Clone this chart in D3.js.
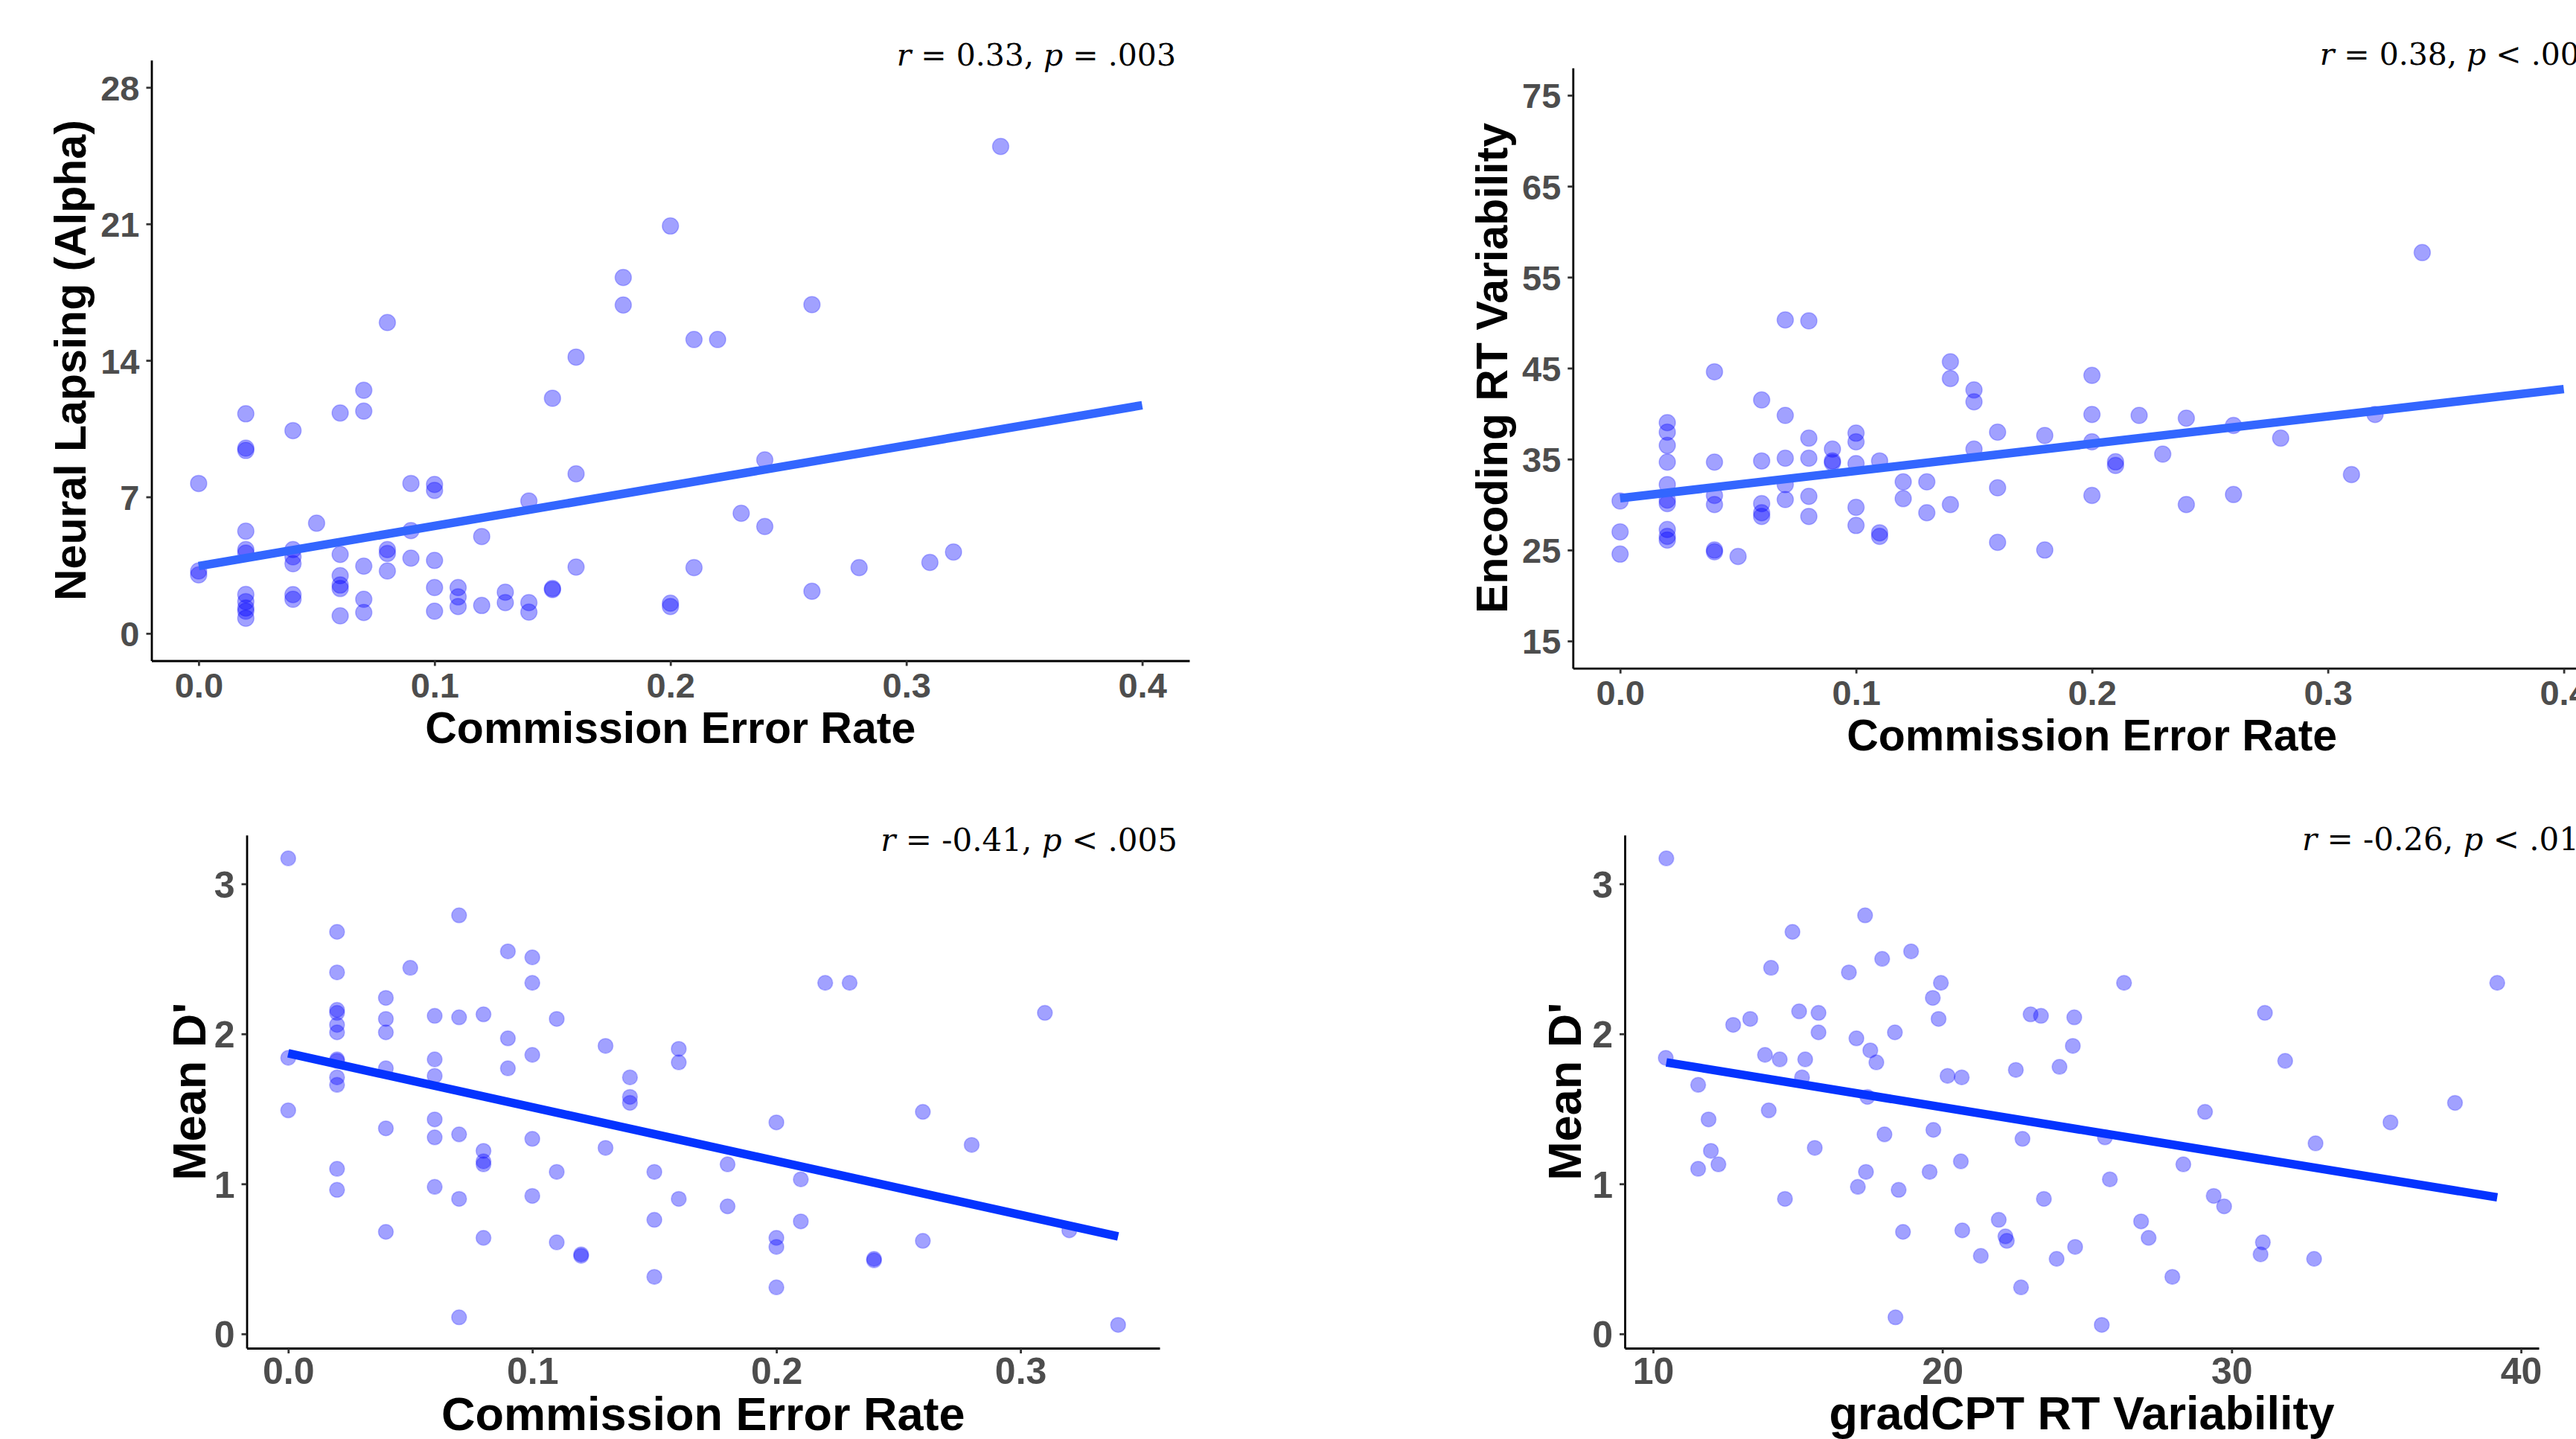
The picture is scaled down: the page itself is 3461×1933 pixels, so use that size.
<!DOCTYPE html>
<html>
<head>
<meta charset="utf-8">
<script src="https://cdn.jsdelivr.net/npm/d3@7"></script>
<style>
    body { margin: 0; background: #fff; }
    .axis path { stroke: #000; stroke-width: 2.8px; }
    .axis line { stroke: #333; stroke-width: 2.8px; }
    .axis text { fill: #4d4d4d; font-family: "Liberation Sans", Arial, sans-serif; font-weight: bold; }
    .title { fill: #000; font-family: "Liberation Sans", Arial, sans-serif; font-weight: bold; }
    .stat { fill: #000; font-family: "DejaVu Serif", serif; }
</style>
</head>
<body>
<svg id="chart"></svg>
<script>
// commission error rate vs neural lapsing (alpha)
const alphaPoints = [
    [0, 7.69], [0, 3.2], [0, 3.0],
    [0.02, 11.26], [0.02, 9.5], [0.02, 9.38], [0.02, 5.24], [0.02, 4.3], [0.02, 4.12], [0.02, 2.0], [0.02, 1.63], [0.02, 1.3], [0.02, 1.14], [0.02, 0.78],
    [0.04, 10.4], [0.04, 4.3], [0.04, 3.93], [0.04, 3.57], [0.04, 1.99], [0.04, 1.75],
    [0.05, 5.65],
    [0.06, 11.3], [0.06, 4.05], [0.06, 2.96], [0.06, 2.48], [0.06, 2.3], [0.06, 0.9],
    [0.07, 12.47], [0.07, 11.4], [0.07, 3.45], [0.07, 1.75], [0.07, 1.07],
    [0.08, 15.94], [0.08, 4.3], [0.08, 4.1], [0.08, 3.2],
    [0.09, 7.69], [0.09, 5.27], [0.09, 3.86],
    [0.1, 7.64], [0.1, 7.33], [0.1, 3.74], [0.1, 2.35], [0.1, 1.14],
    [0.11, 2.35], [0.11, 1.87], [0.11, 1.38],
    [0.12, 4.97], [0.12, 1.43],
    [0.13, 2.11], [0.13, 1.58],
    [0.14, 6.79], [0.14, 1.58], [0.14, 1.09],
    [0.15, 12.06], [0.15, 2.3], [0.15, 2.25],
    [0.16, 14.17], [0.16, 8.18], [0.16, 3.4],
    [0.18, 18.25], [0.18, 16.84],
    [0.2, 20.89], [0.2, 1.55], [0.2, 1.38],
    [0.21, 15.07], [0.21, 3.37],
    [0.22, 15.07],
    [0.23, 6.16],
    [0.24, 8.9], [0.24, 5.48],
    [0.26, 16.86], [0.26, 2.16],
    [0.28, 3.37],
    [0.31, 3.64],
    [0.32, 4.17],
    [0.34, 24.97]
];
const alphaFit = [[0, 3.45], [0.4, 11.7]];

// commission error rate vs encoding RT variability
const encodingPoints = [
    [0, 30.4], [0, 27.0], [0, 24.55],
    [0.02, 39.0], [0.02, 37.96], [0.02, 36.5], [0.02, 34.67], [0.02, 32.2], [0.02, 30.5], [0.02, 30.1], [0.02, 27.26], [0.02, 26.5], [0.02, 26.1],
    [0.04, 44.6], [0.04, 34.67], [0.04, 31.0], [0.04, 30.0], [0.04, 25.0], [0.04, 24.8],
    [0.05, 24.3],
    [0.06, 41.5], [0.06, 34.8], [0.06, 30.1], [0.06, 29.1], [0.06, 28.7],
    [0.07, 50.3], [0.07, 39.8], [0.07, 35.1], [0.07, 32.2], [0.07, 30.55],
    [0.08, 50.2], [0.08, 37.3], [0.08, 35.1], [0.08, 30.9], [0.08, 28.7],
    [0.09, 36.1], [0.09, 34.8], [0.09, 34.6],
    [0.1, 37.85], [0.1, 36.9], [0.1, 34.5], [0.1, 29.7], [0.1, 27.7],
    [0.11, 34.8], [0.11, 26.9], [0.11, 26.5],
    [0.12, 32.5], [0.12, 30.65],
    [0.13, 32.5], [0.13, 29.1],
    [0.14, 45.7], [0.14, 43.85], [0.14, 30.0],
    [0.15, 42.6], [0.15, 41.3], [0.15, 36.1],
    [0.16, 37.96], [0.16, 31.85], [0.16, 25.85],
    [0.18, 37.6], [0.18, 25.0],
    [0.2, 44.2], [0.2, 39.9], [0.2, 36.9], [0.2, 31.0],
    [0.21, 34.7], [0.21, 34.3],
    [0.22, 39.8],
    [0.23, 35.55],
    [0.24, 39.5], [0.24, 30.0],
    [0.26, 38.7], [0.26, 31.1],
    [0.28, 37.3],
    [0.31, 33.3],
    [0.32, 39.9],
    [0.34, 57.7]
];
const encodingFit = [[0, 30.7], [0.4, 42.7]];

// commission error rate vs mean d'
const dprimePoints = [
    [0, 3.17], [0, 1.84], [0, 1.49],
    [0.02, 2.68], [0.02, 2.41], [0.02, 2.16], [0.02, 2.14], [0.02, 2.06], [0.02, 2.01], [0.02, 1.83], [0.02, 1.82], [0.02, 1.71], [0.02, 1.66], [0.02, 1.10], [0.02, 0.96],
    [0.04, 2.24], [0.04, 2.10], [0.04, 2.01], [0.04, 1.77], [0.04, 1.37], [0.04, 0.68],
    [0.05, 2.44],
    [0.06, 2.12], [0.06, 1.83], [0.06, 1.72], [0.06, 1.43], [0.06, 1.31], [0.06, 0.98],
    [0.07, 2.79], [0.07, 2.11], [0.07, 1.33], [0.07, 0.90], [0.07, 0.11],
    [0.08, 2.13], [0.08, 1.22], [0.08, 1.15], [0.08, 1.13], [0.08, 0.64],
    [0.09, 2.55], [0.09, 1.97], [0.09, 1.77],
    [0.1, 2.51], [0.1, 2.34], [0.1, 1.86], [0.1, 1.30], [0.1, 0.92],
    [0.11, 2.10], [0.11, 1.08], [0.11, 0.61],
    [0.12, 0.53], [0.12, 0.52],
    [0.13, 1.92], [0.13, 1.24],
    [0.14, 1.71], [0.14, 1.58], [0.14, 1.54],
    [0.15, 1.08], [0.15, 0.76], [0.15, 0.38],
    [0.16, 1.90], [0.16, 1.81], [0.16, 0.90],
    [0.18, 1.13], [0.18, 0.85],
    [0.2, 1.41], [0.2, 0.64], [0.2, 0.58], [0.2, 0.31],
    [0.21, 1.03], [0.21, 0.75],
    [0.22, 2.34],
    [0.23, 2.34],
    [0.24, 0.50], [0.24, 0.49],
    [0.26, 1.48], [0.26, 0.62],
    [0.28, 1.26],
    [0.31, 2.14],
    [0.32, 0.69],
    [0.34, 0.06]
];
const dprimeFit = [[0, 1.87], [0.34, 0.65]];

// gradCPT RT variability vs mean d'
const gradcptPoints = [
    [10.46, 3.17], [10.44, 1.84], [11.56, 1.66], [11.92, 1.43], [12.0, 1.22], [11.56, 1.10], [12.26, 1.13],
    [12.77, 2.06], [13.36, 2.10], [13.87, 1.86], [14.08, 2.44], [14.0, 1.49], [14.38, 1.83], [14.56, 0.90],
    [14.82, 2.68], [15.05, 2.15], [15.15, 1.71], [15.26, 1.83], [15.72, 2.14], [15.72, 2.01], [15.59, 1.24],
    [16.77, 2.41], [17.03, 1.97], [17.08, 0.98], [17.33, 2.79], [17.36, 1.08], [17.41, 1.58], [17.51, 1.89],
    [17.72, 1.81], [17.92, 2.50], [18.0, 1.33], [18.36, 2.01], [18.38, 0.11], [18.49, 0.96], [18.64, 0.68],
    [18.92, 2.55], [19.56, 1.08], [19.67, 2.24], [19.69, 1.36], [19.87, 2.10], [19.95, 2.34], [20.18, 1.72],
    [20.64, 1.15], [20.67, 1.71], [20.69, 0.69], [21.33, 0.52], [21.95, 0.76], [22.18, 0.65], [22.23, 0.62],
    [22.54, 1.76], [22.72, 0.31], [22.77, 1.30], [23.05, 2.13], [23.41, 2.12], [23.51, 0.90], [23.95, 0.50],
    [24.05, 1.78], [24.51, 1.92], [24.56, 2.11], [24.59, 0.58], [25.51, 0.06], [25.62, 1.31], [25.79, 1.03],
    [26.28, 2.34], [26.87, 0.75], [27.13, 0.64], [27.95, 0.38], [28.33, 1.13], [29.08, 1.48], [29.38, 0.92],
    [29.74, 0.85], [31.0, 0.53], [31.08, 0.61], [31.15, 2.14], [31.85, 1.82], [32.85, 0.50], [32.90, 1.27],
    [35.49, 1.41], [37.72, 1.54], [39.18, 2.34]
];
const gradcptFit = [[10.46, 1.81], [39.18, 0.91]];

const errorRateTicks = [0, 0.1, 0.2, 0.3, 0.4];
const alphaTicks = [0, 7, 14, 21, 28];
const encodingTicks = [15, 25, 35, 45, 55, 65, 75];
const dprimeTicks = [0, 1, 2, 3];
const gradcptTicks = [10, 20, 30, 40];

const svg = d3.select("#chart")
    .attr("width", 3461)
    .attr("height", 1933);

svg.append("rect")
    .attr("width", 3461)
    .attr("height", 1933)
    .attr("fill", "#fff");

function drawPanel(p) {
    const g = svg.append("g");

    const x = d3.scaleLinear().domain(p.xDomain).range(p.xRange);
    const y = d3.scaleLinear().domain(p.yDomain).range(p.yRange);

    // points
    g.selectAll("circle")
        .data(p.points)
        .enter().append("circle")
        .attr("cx", d => x(d[0]))
        .attr("cy", d => y(d[1]))
        .attr("r", p.radius)
        .attr("fill", "#0000ff")
        .attr("fill-opacity", 0.37)
        .attr("stroke", "#0000ff")
        .attr("stroke-opacity", 0.22)
        .attr("stroke-width", 1.5);

    // fitted line
    g.append("path")
        .datum(p.fit)
        .attr("d", d3.line().x(d => x(d[0])).y(d => y(d[1])))
        .attr("fill", "none")
        .attr("stroke", p.lineColor)
        .attr("stroke-width", 11.5);

    const xAxis = g.append("g")
        .attr("class", "axis")
        .attr("transform", `translate(0,${p.yRange[0]})`)
        .call(d3.axisBottom(x).tickValues(p.xTicks).tickFormat(p.xFormat)
            .tickSize(7).tickSizeOuter(0).tickPadding(p.xPad));
    xAxis.selectAll("text").style("font-size", p.tickSize + "px");

    const yAxis = g.append("g")
        .attr("class", "axis")
        .attr("transform", `translate(${p.xRange[0]},0)`)
        .call(d3.axisLeft(y).tickValues(p.yTicks).tickFormat(d3.format("d"))
            .tickSize(7).tickSizeOuter(0).tickPadding(9));
    yAxis.selectAll("text").style("font-size", p.tickSize + "px").attr("dy", "0.36em");

    g.append("text")
        .attr("class", "title")
        .attr("x", (p.xRange[0] + p.xRange[1]) / 2)
        .attr("y", p.xTitleY)
        .attr("text-anchor", "middle")
        .style("font-size", p.titleSize + "px")
        .text(p.xTitle);

    g.append("text")
        .attr("class", "title")
        .attr("transform", `translate(${p.yTitleX},${(p.yRange[0] + p.yRange[1]) / 2}) rotate(-90)`)
        .attr("text-anchor", "middle")
        .style("font-size", p.titleSize + "px")
        .text(p.yTitle);

    const stat = g.append("text")
        .attr("class", "stat")
        .attr("x", p.statX)
        .attr("y", p.statY)
        .attr("text-anchor", "end")
        .style("font-size", p.statSize + "px");
    stat.append("tspan").attr("font-style", "italic").text("r");
    stat.append("tspan").text(` = ${p.r}, `);
    stat.append("tspan").attr("font-style", "italic").text("p");
    stat.append("tspan").text(` ${p.p}`);
}

drawPanel({
    points: alphaPoints, fit: alphaFit,
    xDomain: [-0.02, 0.42], xRange: [203.5, 1598],
    yDomain: [-1.4, 29.4], yRange: [887.5, 80.7],
    xTicks: errorRateTicks, yTicks: alphaTicks, xFormat: d3.format(".1f"), xPad: 9,
    xTitle: "Commission Error Rate", yTitle: "Neural Lapsing (Alpha)",
    xTitleY: 998, yTitleX: 115,
    r: "0.33", p: "= .003", statX: 1580, statY: 88,
    radius: 11, lineColor: "#3366ff", tickSize: 47, titleSize: 59, statSize: 41
});

drawPanel({
    points: encodingPoints, fit: encodingFit,
    xDomain: [-0.02, 0.42], xRange: [2113.3, 3508],
    yDomain: [12, 78], yRange: [897.7, 91.3],
    xTicks: errorRateTicks, yTicks: encodingTicks, xFormat: d3.format(".1f"), xPad: 9,
    xTitle: "Commission Error Rate", yTitle: "Encoding RT Variability",
    xTitleY: 1008, yTitleX: 2025,
    r: "0.38", p: "< .001", statX: 3492, statY: 87,
    radius: 11, lineColor: "#3366ff", tickSize: 47, titleSize: 59, statSize: 41
});

drawPanel({
    points: dprimePoints, fit: dprimeFit,
    xDomain: [-0.017, 0.357], xRange: [331.5, 1558],
    yDomain: [-0.0955, 3.3255], yRange: [1811, 1121.7],
    xTicks: errorRateTicks.slice(0, 4), yTicks: dprimeTicks, xFormat: d3.format(".1f"), xPad: 5,
    xTitle: "Commission Error Rate", yTitle: "Mean D'",
    xTitleY: 1921, yTitleX: 276,
    r: "-0.41", p: "< .005", statX: 1582, statY: 1143,
    radius: 10, lineColor: "#0433ff", tickSize: 50, titleSize: 63, statSize: 42
});

drawPanel({
    points: gradcptPoints, fit: gradcptFit,
    xDomain: [9.024, 40.616], xRange: [2183, 3411],
    yDomain: [-0.0955, 3.3255], yRange: [1811, 1121.7],
    xTicks: gradcptTicks, yTicks: dprimeTicks, xFormat: d3.format("d"), xPad: 5,
    xTitle: "gradCPT RT Variability", yTitle: "Mean D'",
    xTitleY: 1920, yTitleX: 2124,
    r: "-0.26", p: "< .01", statX: 3465, statY: 1142,
    radius: 10, lineColor: "#0433ff", tickSize: 50, titleSize: 63, statSize: 42
});
</script>
</body>
</html>
